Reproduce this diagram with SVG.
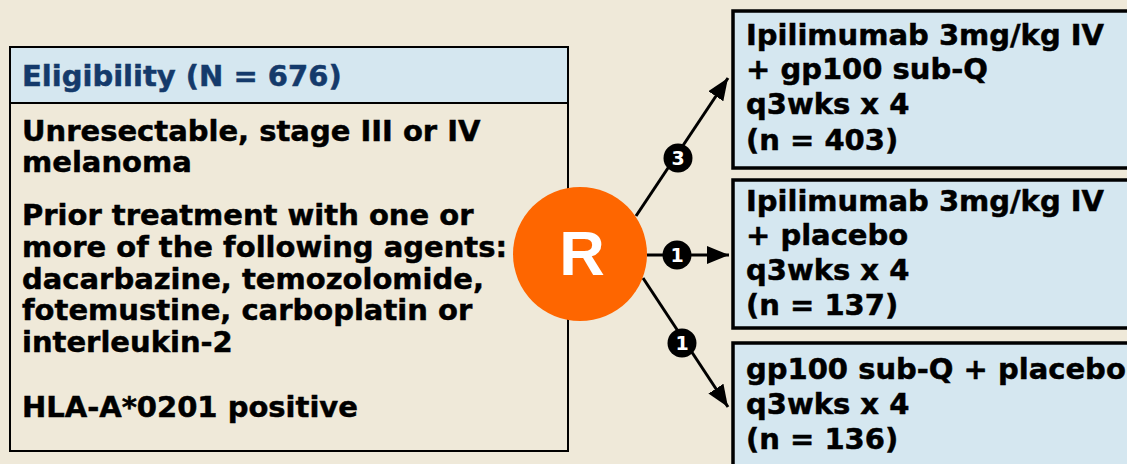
<svg xmlns="http://www.w3.org/2000/svg" width="1127" height="464" viewBox="0 0 1127 464">
<defs>
<style>
.t{font-family:"DejaVu Sans",Verdana,sans-serif;font-weight:bold;font-size:29px;fill:#000;stroke:#000;stroke-width:0.5}
.h{fill:#143a6b;stroke:#143a6b}
.box{fill:#d5e7f0;stroke:#000;stroke-width:3.5}
.conn{stroke:#000;stroke-width:3;fill:none}
.badge{fill:#000}
.bt{font-family:"DejaVu Sans",Verdana,sans-serif;font-weight:bold;font-size:19px;fill:#fff;text-anchor:middle}
</style>
<marker id="ah" markerUnits="userSpaceOnUse" markerWidth="24" markerHeight="18" refX="22" refY="9" orient="auto">
<path d="M0,0 L22,9 L0,18 Z" fill="#000"/>
</marker>
</defs>
<rect x="0" y="0" width="1127" height="464" fill="#efe9d9"/>

<g id="eligibility">
<rect x="10" y="47" width="558" height="404" fill="#efe9d9" stroke="#000" stroke-width="2"/>
<rect x="10" y="47" width="558" height="56" fill="#d5e7f0" stroke="#000" stroke-width="2"/>
<text class="t h" x="22" y="86">Eligibility (N = 676)</text>
<text class="t" x="22" y="141">Unresectable, stage III or IV</text>
<text class="t" x="22" y="172">melanoma</text>
<text class="t" x="22" y="225">Prior treatment with one or</text>
<text class="t" x="22" y="257">more of the following agents:</text>
<text class="t" x="22" y="289">dacarbazine, temozolomide,</text>
<text class="t" x="22" y="320">fotemustine, carboplatin or</text>
<text class="t" x="22" y="352">interleukin-2</text>
<text class="t" x="22" y="417">HLA-A*0201 positive</text>
</g>

<g id="connectors">
<line class="conn" x1="636" y1="216" x2="728" y2="78" marker-end="url(#ah)"/>
<line class="conn" x1="647" y1="255" x2="729" y2="255" marker-end="url(#ah)"/>
<line class="conn" x1="643" y1="278" x2="728" y2="407" marker-end="url(#ah)"/>
<circle class="badge" cx="678" cy="158" r="14.5"/>
<text class="bt" x="678" y="165">3</text>
<circle class="badge" cx="677" cy="255" r="14.5"/>
<text class="bt" x="677" y="262">1</text>
<circle class="badge" cx="682" cy="343" r="14.5"/>
<text class="bt" x="682" y="350">1</text>
</g>

<g id="randomize">
<circle cx="580" cy="254" r="67" fill="#fe6600"/>
<text x="582" y="275" font-family="'Liberation Sans',Arial,sans-serif" font-weight="bold" font-size="63" fill="#fff" text-anchor="middle">R</text>
</g>

<g id="arm1">
<rect class="box" x="733" y="11" width="410" height="157"/>
<text class="t" x="746" y="45">Ipilimumab 3mg/kg IV</text>
<text class="t" x="746" y="79">+ gp100 sub-Q</text>
<text class="t" x="746" y="114">q3wks x 4</text>
<text class="t" x="746" y="150">(n = 403)</text>
</g>

<g id="arm2">
<rect class="box" x="733" y="180" width="410" height="148"/>
<text class="t" x="746" y="211">Ipilimumab 3mg/kg IV</text>
<text class="t" x="746" y="245">+ placebo</text>
<text class="t" x="746" y="280">q3wks x 4</text>
<text class="t" x="746" y="315">(n = 137)</text>
</g>

<g id="arm3">
<rect class="box" x="733" y="343" width="410" height="140"/>
<text class="t" x="746" y="379">gp100 sub-Q + placebo</text>
<text class="t" x="746" y="414">q3wks x 4</text>
<text class="t" x="746" y="449">(n = 136)</text>
</g>
</svg>
